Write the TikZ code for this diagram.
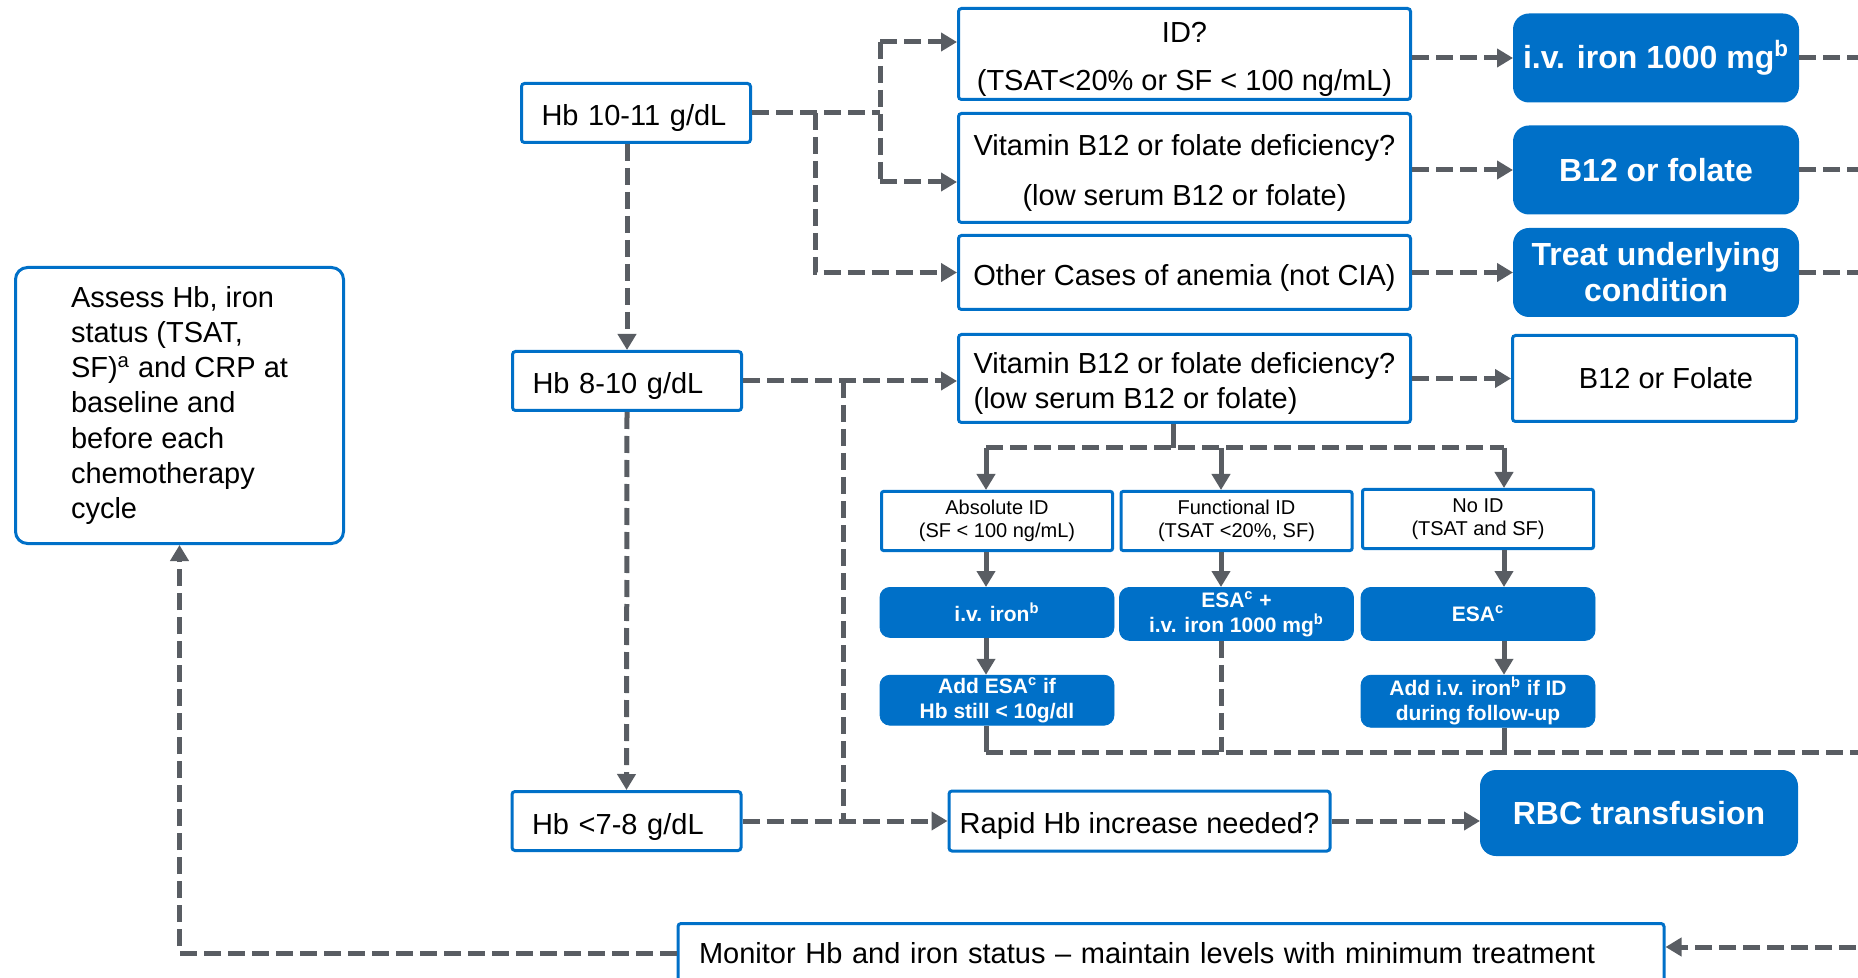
\documentclass[tikz,border=0pt]{standalone}
\usepackage{fontspec}
\setmainfont{Liberation Sans}
\usepackage{tikz}
\usetikzlibrary{arrows.meta, positioning, calc}
\definecolor{myblue}{RGB}{0,112,200}
\definecolor{mygray}{RGB}{89,93,99}
\newcommand{\qstrut}{\rule{0pt}{13pt}}
\tikzset{
  qbox/.style={rectangle, draw=myblue, fill=white, line width=1.5pt,
    rounded corners=1.5pt, minimum width=226pt, align=center,
    font=\fontsize{14.5}{17.5}\selectfont, inner sep=3pt},
  hbbox/.style={rectangle, draw=myblue, fill=white, line width=1.5pt,
    rounded corners=1.5pt, text width=94.5pt, inner xsep=10pt,
    text height=13pt, text depth=0pt,
    minimum height=29.5pt, align=left, font=\fontsize{14.5}{17.5}\selectfont},
  actbox/.style={rectangle, draw=myblue, fill=myblue, text=white, line width=1pt,
    rounded corners=7.5pt, minimum width=142pt, minimum height=43.5pt,
    align=center, font=\fontsize{16}{18}\selectfont\bfseries},
  dashline/.style={line width=2.5pt, color=mygray, dash pattern=on 8.5pt off 3.5pt},
  dasharrow/.style={dashline, -{Triangle[length=8pt, width=9pt]}},
  solidline/.style={line width=2.5pt, color=mygray},
  solidarrow/.style={solidline, -{Triangle[length=8pt, width=9pt]}}
}

\begin{document}
\begin{tikzpicture}[x=0.5pt, y=-0.5pt,
  idbox/.style={rectangle, draw=myblue, fill=white, line width=1.5pt,
    rounded corners=1pt, minimum width=115.5pt, minimum height=29.5pt,
    align=center, font=\fontsize{10}{11.7}\selectfont},
  smallact/.style={rectangle, draw=myblue, fill=myblue, text=white,
    rounded corners=5pt, minimum width=117pt, minimum height=25pt,
    align=center, inner sep=1pt, font=\fontsize{10.5}{12.5}\selectfont\bfseries}]

  \useasboundingbox (0,0) rectangle (1858,978);
  \clip (0,0) rectangle (1858,978);

  \node[rectangle, draw=myblue, line width=1.5pt, rounded corners=6pt,
    minimum width=164pt, minimum height=138pt, align=left,
    font=\fontsize{14.5}{17.6}\selectfont] (assess) at (179.5,405.5)
    {Assess Hb, iron\\status (TSAT,\\SF)\textsuperscript{a} and CRP at\\baseline and\\before each\\chemotherapy\\cycle};

  \node[hbbox] (hbA) at (636,113) {Hb 10-11 g/dL};
  \node[hbbox] (hbB) at (627,381) {Hb 8-10 g/dL};
  \node[hbbox] (hbC) at (626.5,821) {Hb <7-8 g/dL};

  \node[qbox, minimum height=45.5pt, text depth=0pt, font=\fontsize{14.5}{24}\selectfont] (qId) at (1184.5,54)
    {\qstrut ID?\\(TSAT<20\% or SF < 100 ng/mL)};
  \node[qbox, minimum height=54.5pt, text depth=0pt, font=\fontsize{14.5}{25}\selectfont, below=5.5pt of qId] (qVitA)
    {\qstrut Vitamin B12 or folate deficiency?\\(low serum B12 or folate)};
  \node[qbox, minimum height=37pt, text depth=0pt, below=5pt of qVitA] (qOther)
    {\qstrut Other Cases of anemia (not CIA)};
  \node[qbox, minimum height=44pt, text depth=0pt, align=left, below=11pt of qOther] (qVitB)
    {\qstrut Vitamin B12 or folate deficiency?\\(low serum B12 or folate)};

  \node[actbox, right=50.5pt of qId, yshift=-2pt] (actIron) {i.v. iron 1000 mg\textsuperscript{b}};
  \node[actbox, right=50.5pt of qVitA, yshift=-1pt] (actB12) {B12 or folate};
  \node[actbox, right=50.5pt of qOther] (actTreat) {Treat underlying\\condition};
  \node[qbox, minimum width=142pt, minimum height=43pt, right=49.5pt of qVitB] (resB12)
    {\hspace*{11.5pt}B12 or Folate};

  \node[idbox] (idAbs) at (997,521) {Absolute ID\\(SF < 100 ng/mL)};
  \node[idbox] (idFun) at (1236.5,521) {Functional ID\\(TSAT <20\%, SF)};
  \node[idbox] (idNo) at (1478,519) {No ID\\(TSAT and SF)};
  \node[smallact, below=17.5pt of idAbs] (ivIron) {i.v. iron\textsuperscript{b}};
  \node[smallact, minimum height=26.5pt, below=17.5pt of idFun] (esaIron) {ESA\textsuperscript{c} +\\i.v. iron 1000 mg\textsuperscript{b}};
  \node[smallact, minimum height=26.5pt, below=18.5pt of idNo] (esa) {ESA\textsuperscript{c}};
  \node[smallact, below=18.5pt of ivIron] (addEsa) {Add ESA\textsuperscript{c} if\\Hb still < 10g/dl};
  \node[smallact, below=17pt of esa] (addIron) {Add i.v. iron\textsuperscript{b} if ID\\during follow-up};

  \node[qbox, minimum width=190.5pt, minimum height=30pt, text height=12pt, text depth=0pt,
    right=102.5pt of hbC] (rapid) {Rapid Hb increase needed?};
  \node[actbox, minimum width=158pt, minimum height=42pt] (rbc) at (1639,813) {RBC transfusion};
  \node[qbox, text width=472pt, inner xsep=10.5pt, minimum height=29.5pt, align=left] (monitor) at (1171,953)
    {Monitor Hb and iron status -- maintain levels with minimum treatment};

  \coordinate (rEdge) at (1880,0);
  \coordinate (fkA) at (815,113);
  \coordinate (fkB) at (880,113);
  \coordinate (fkBt) at (880,42);
  \coordinate (fkBb) at (880,182);
  \coordinate (fkC) at (843,381);
  \coordinate (fkD) at (1173,448);
  \coordinate (colA) at (986,448);
  \coordinate (colB) at (1221,448);
  \coordinate (colC) at (1504,448);
  \coordinate (fkE) at (986,752);
  \coordinate (fkF) at (1880,947);

  \draw[dashline] (hbA.east) -- (fkB);
  \draw[dashline] (fkBt) -- (fkBb);
  \draw[dasharrow] (fkBt) -- (fkBt -| qId.west);
  \draw[dasharrow] (fkBb) -- (fkBb -| qVitA.west);
  \draw[dasharrow] (fkA) |- (qOther.west);
  \draw[dasharrow] (hbB.north |- hbA.south) -- (hbB.north);
  \draw[dasharrow] (hbB.south) -- (hbC.north);

  \draw[dasharrow] (hbB.east) -- (hbB.east -| qVitB.west);
  \draw[dashline] (fkC) -- (fkC |- hbC.east);
  \draw[dasharrow] (hbC.east) -- (rapid.west);
  \draw[dasharrow] (rapid.east) -- (rapid.east -| rbc.west);

  \draw[dasharrow] (qId.east |- actIron.west) -- (actIron.west);
  \draw[dasharrow] (qVitA.east |- actB12.west) -- (actB12.west);
  \draw[dasharrow] (qOther.east |- actTreat.west) -- (actTreat.west);
  \draw[dasharrow] (qVitB.east |- resB12.west) -- (resB12.west);
  \draw[dashline] (actIron.east) -- (actIron.east -| rEdge);
  \draw[dashline] (actB12.east) -- (actB12.east -| rEdge);
  \draw[dashline] (actTreat.east) -- (actTreat.east -| rEdge);

  \draw[solidline] (qVitB.south -| fkD) -- (fkD);
  \draw[dashline] (colA) -- (colC);
  \draw[solidarrow] (colA) -- (colA |- idAbs.north);
  \draw[solidarrow] (colB) -- (colB |- idFun.north);
  \draw[solidarrow] (colC) -- (colC |- idNo.north);
  \draw[solidarrow] (colA |- idAbs.south) -- (colA |- ivIron.north);
  \draw[solidarrow] (colB |- idFun.south) -- (colB |- esaIron.north);
  \draw[solidarrow] (colC |- idNo.south) -- (colC |- esa.north);
  \draw[solidarrow] (colA |- ivIron.south) -- (colA |- addEsa.north);
  \draw[solidarrow] (colC |- esa.south) -- (colC |- addIron.north);

  \draw[solidline] (colA |- addEsa.south) -- (fkE);
  \draw[dashline] (fkE) -- (fkE -| rEdge);
  \draw[dashline] (colB |- esaIron.south) -- (colB |- fkE);
  \draw[solidline] (colC |- addIron.south) -- (colC |- fkE);

  \draw[dasharrow] (fkF) -- (fkF -| monitor.east);
  \draw[dasharrow] (monitor.west) -| (assess.south);
\end{tikzpicture}
\end{document}
